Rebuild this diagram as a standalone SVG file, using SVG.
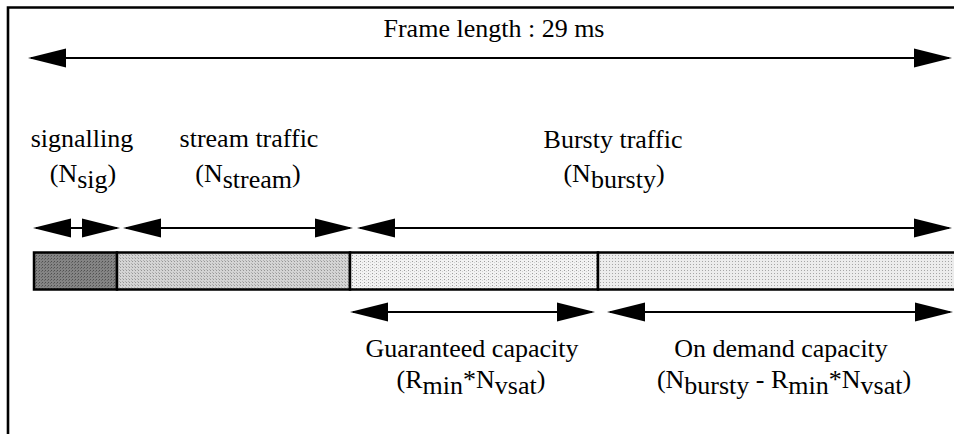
<svg xmlns="http://www.w3.org/2000/svg" width="954" height="434" viewBox="0 0 954 434">
  <style>
    .lbl { font-family: "Liberation Serif", "Times New Roman", serif; font-size: 26px; fill: #000; text-anchor: middle; }
    .dim { stroke: #000; stroke-width: 2; fill: none; marker-start: url(#head); marker-end: url(#head); }
    .seg { stroke: #000; stroke-width: 2.5; }
    .frame { stroke: #000; stroke-width: 2.6; fill: none; }
  </style>
  <defs>
    <!-- filled arrowhead, tip 3px past the line end so the shaft never pokes out -->
    <marker id="head" viewBox="0 -10 40 20" refX="35" refY="0" markerWidth="40" markerHeight="20" markerUnits="userSpaceOnUse" orient="auto-start-reverse">
      <path d="M0,-9.5 L38,0 L0,9.5 Z" fill="#000"/>
    </marker>
    <!-- screen tones for the frame segments -->
    <pattern id="toneSig" width="3" height="3" patternUnits="userSpaceOnUse">
      <rect width="3" height="3" fill="#848484"/>
      <rect width="1" height="1" fill="#505050"/>
      <rect x="2" y="1" width="1" height="1" fill="#666"/>
    </pattern>
    <pattern id="toneStream" width="3" height="3" patternUnits="userSpaceOnUse">
      <rect width="3" height="3" fill="#d4d4d4"/>
      <rect width="1" height="1" fill="#969696"/>
      <rect x="2" y="2" width="1" height="1" fill="#b0b0b0"/>
    </pattern>
    <pattern id="toneGuar" width="4" height="3" patternUnits="userSpaceOnUse">
      <rect width="4" height="3" fill="#f2f2f2"/>
      <rect width="1" height="1" fill="#9c9c9c"/>
      <rect x="2" y="1" width="1" height="1" fill="#d0d0d0"/>
    </pattern>
    <pattern id="toneDemand" width="3" height="3" patternUnits="userSpaceOnUse">
      <rect width="3" height="3" fill="#ececec"/>
      <rect width="1" height="1" fill="#a6a6a6"/>
    </pattern>
  </defs>

  <rect width="954" height="434" fill="#fff"/>

  <!-- outer frame: left and top edges only -->
  <path class="frame" d="M8,434 V7.5 H954"/>

  <!-- frame segments -->
  <g id="seg-signalling">
    <rect class="seg" x="34" y="252.5" width="83" height="37" fill="url(#toneSig)"/>
  </g>
  <g id="seg-stream">
    <rect class="seg" x="117" y="252.5" width="233" height="37" fill="url(#toneStream)"/>
  </g>
  <g id="seg-guaranteed">
    <rect class="seg" x="350" y="252.5" width="248" height="37" fill="url(#toneGuar)"/>
  </g>
  <g id="seg-ondemand">
    <rect class="seg" x="598" y="252.5" width="370" height="37" fill="url(#toneDemand)"/>
  </g>

  <!-- dimension arrows -->
  <g id="connectors">
    <line class="dim" x1="31" y1="58" x2="949" y2="58"/>
    <line class="dim" x1="36" y1="228" x2="117" y2="228"/>
    <line class="dim" x1="126" y1="228" x2="350" y2="228"/>
    <line class="dim" x1="360" y1="228" x2="949" y2="228"/>
    <line class="dim" x1="353" y1="312" x2="592" y2="312"/>
    <line class="dim" x1="610" y1="312" x2="950" y2="312"/>
  </g>

  <!-- labels -->
  <g id="label-frame">
    <text class="lbl" x="494" y="37">Frame length : 29 ms</text>
  </g>
  <g id="label-signalling">
    <text class="lbl" x="82" y="147">signalling</text>
    <text class="lbl" x="83" y="182">(N<tspan dy="6">sig</tspan><tspan dy="-6">)</tspan></text>
  </g>
  <g id="label-stream">
    <text class="lbl" x="249" y="147">stream traffic</text>
    <text class="lbl" x="248" y="182">(N<tspan dy="6">stream</tspan><tspan dy="-6">)</tspan></text>
  </g>
  <g id="label-bursty">
    <text class="lbl" x="613" y="148">Bursty traffic</text>
    <text class="lbl" x="614" y="182">(N<tspan dy="6">bursty</tspan><tspan dy="-6">)</tspan></text>
  </g>
  <g id="label-guaranteed">
    <text class="lbl" x="472" y="357">Guaranteed capacity</text>
    <text class="lbl" x="471" y="388">(R<tspan dy="6">min</tspan><tspan dy="-6">*N</tspan><tspan dy="6">vsat</tspan><tspan dy="-6">)</tspan></text>
  </g>
  <g id="label-ondemand">
    <text class="lbl" x="781" y="357">On demand capacity</text>
    <text class="lbl" x="784" y="388">(N<tspan dy="6">bursty</tspan><tspan dy="-6"> - R</tspan><tspan dy="6">min</tspan><tspan dy="-6">*N</tspan><tspan dy="6">vsat</tspan><tspan dy="-6">)</tspan></text>
  </g>
</svg>
